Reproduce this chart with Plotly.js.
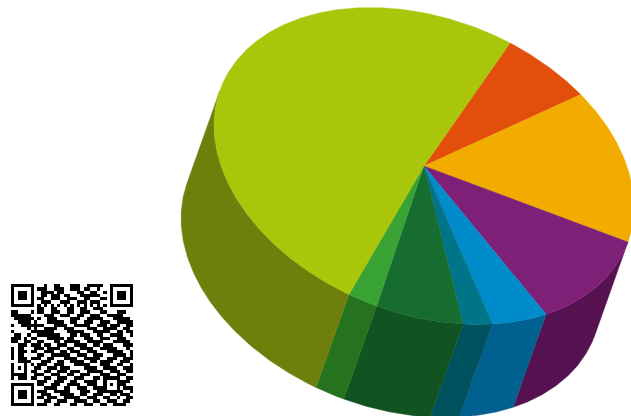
<!DOCTYPE html>
<html>
<head>
<meta charset="utf-8">
<script src="https://cdn.plot.ly/plotly-3.0.1.min.js"></script>
<style>html,body{margin:0;padding:0;background:#fff;overflow:hidden}#chart{width:631px;height:416px}</style>
</head>
<body>
<div id="chart"></div>
<script>
// Slice shares in percent, clockwise from the red wedge
const sliceNames = ['Red', 'Orange', 'Purple', 'Blue', 'Teal', 'Dark green', 'Green', 'Lime'];
const sliceValues = [6.7, 15.4, 11.3, 4.6, 2.3, 6.6, 2.2, 50.9];
const topColors = ['#e24f0d', '#f2ac00', '#7e2077', '#008bcb', '#007488', '#176c30', '#38a332', '#a9c60b'];
const sideColors = ['#8f3208', '#a07200', '#561150', '#00608f', '#00525f', '#115421', '#26731f', '#6f7f0c'];

// Module rows of the square code in the lower-left corner
const codeRows = [
  "1111111 0 001001100011100111110 0 1111111",
  "1000001 0 111001110011101100100 0 1000001",
  "1011101 0 011110110000110011001 0 1011101",
  "1011101 0 011011101100011111100 0 1011101",
  "1011101 0 110011100111001100011 0 1011101",
  "1000001 0 011100011100111011100 0 1000001",
  "1111111 0 101010101010101010101 0 1111111",
  "0000000 0 110011000110011001110 0 0000000",
  "1100001011 0011100110 0111000110 0011100",
  "1111110000 1110011100 1100111001 1111000",
  "0111111010 0111000011 1001111100 0111110",
  "0011110100 0111110011 0011100111 0011111",
  "1001111111 0001111001 1111001110 1110011",
  "0000010100 1111001110 0001110011 1100110",
  "1000001111 1110000111 1100011111 0011011",
  "0110010011 1111100011 0111001100 1111001",
  "1110101100 0111110110 0011100111 0011100",
  "1100110011 0001101111 1001111100 0111110",
  "0011101110 1100111001 1110011011 1000111",
  "1011000111 0111100110 0111100111 1100010",
  "1011101100 1110011011 1001110001 1111001",
  "1011000011 0011111100 1110011100 0111101",
  "1011101110 0110001111 0011111001 1100111",
  "0011110001 1100110011 1100110111 1001110",
  "1000101011 1001110001 1111000111 0011001",
  "1010100110 0111011100 0011110011 1100111",
  "1000101100 1100111011 1001111100 1110011",
  "1111100111 0011100110 0111000111 0011100",
  "1011101100 1100111001 11000110 11111 0011",
  "0000000011 1001110011 00111100 10001 1110",
  "1111111011 0011100111 10011100 10101 1100",
  "1000001000 1111001100 11100111 10001 0111",
  "1011101011 1001111100 01110011 11111 1001",
  "1011101001 1100011110 01100111 00110 1110",
  "1011101011 0111001111 10011100 11001 0011",
  "1000001000 1100111001 11100110 01110 0110",
  "1111111011 1001100011 00111001 10011 1100"
];

// Oblique projection of the round pie: hub, radii and extrusion in plot units
const hub = {x: 424, y: 166};
const radius = {across: 202.9, skew: 54, down: 158.5};
const extrude = {x: -33, y: 93};
const startAngle = -50.9;

function rim(deg) {
  const t = deg * Math.PI / 180;
  return {
    x: hub.x + radius.across * Math.cos(t) + radius.skew * Math.sin(t),
    y: hub.y + radius.down * Math.sin(t)
  };
}

// The outer wall only shows where its outward side faces the viewer
function wallVisible(deg) {
  const t = deg * Math.PI / 180;
  const dx = -radius.across * Math.sin(t) + radius.skew * Math.cos(t);
  const dy = radius.down * Math.cos(t);
  return dx * extrude.y - dy * extrude.x < 0;
}

const total = sliceValues.reduce((a, b) => a + b, 0);
const walls = [], tops = [];
let angle = startAngle;
sliceValues.forEach((v, i) => {
  const sweep = v / total * 360;
  const n = Math.max(2, Math.ceil(sweep * 2));
  const arc = [];
  for (let k = 0; k <= n; k++) arc.push(angle + sweep * k / n);
  const pts = arc.map(rim);
  tops.push({
    type: 'scatter', mode: 'lines', name: sliceNames[i], hoverinfo: 'name',
    x: [hub.x, ...pts.map(p => p.x), hub.x],
    y: [hub.y, ...pts.map(p => p.y), hub.y],
    fill: 'toself', fillcolor: topColors[i],
    line: {color: topColors[i], width: 0.4}
  });
  const seen = arc.filter(wallVisible).map(rim);
  if (seen.length > 1) {
    const low = seen.slice().reverse();
    walls.push({
      type: 'scatter', mode: 'lines', name: sliceNames[i] + ' wall', hoverinfo: 'skip',
      x: [...seen.map(p => p.x), ...low.map(p => p.x + extrude.x), seen[0].x],
      y: [...seen.map(p => p.y), ...low.map(p => p.y + extrude.y), seen[0].y],
      fill: 'toself', fillcolor: sideColors[i],
      line: {color: sideColors[i], width: 0.4}
    });
  }
  angle += sweep;
});

const code = {
  type: 'heatmap', hoverinfo: 'skip', showscale: false, zsmooth: false,
  z: codeRows.map(r => r.replace(/ /g, '').split('').map(Number)),
  x0: 12.65, dx: 3.3, y0: 285.65, dy: 3.3, zmin: 0, zmax: 1,
  colorscale: [[0, '#ffffff'], [1, '#000000']]
};

Plotly.newPlot('chart', [code, ...walls, ...tops], {
  width: 631, height: 416, showlegend: false,
  margin: {l: 0, r: 0, t: 0, b: 0},
  paper_bgcolor: '#ffffff', plot_bgcolor: '#ffffff',
  xaxis: {range: [0, 631], visible: false, fixedrange: true},
  yaxis: {range: [416, 0], visible: false, fixedrange: true}
}, {displayModeBar: false, staticPlot: true});
</script>
</body>
</html>
